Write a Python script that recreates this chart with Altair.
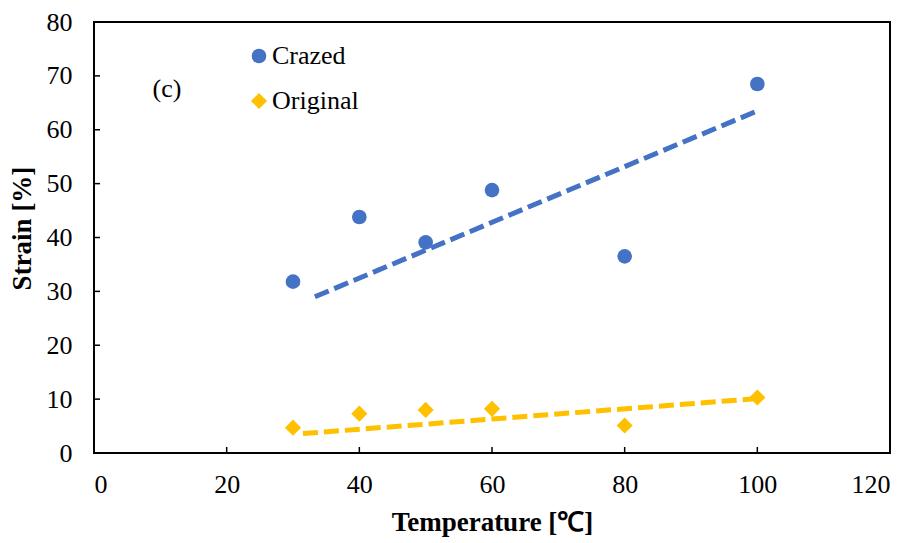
import altair as alt
import pandas as pd

# Data
temperature = [30, 40, 50, 60, 80, 100]
crazed = [31.8, 43.8, 39.1, 48.8, 36.5, 68.5]
original = [4.7, 7.3, 8.0, 8.2, 5.1, 10.3]
series_names = ["Crazed", "Original"]
series_colors = ["#4472C4", "#FFC000"]
series_shapes = ["circle", "M-1.1,0L0,-1.1L1.1,0L0,1.1Z"]

trend_crazed_x = [33.3, 100]
trend_crazed_y = [29.0, 63.5]
trend_original_x = [31.5, 100]
trend_original_y = [3.6, 10.1]

x_ticks = [0, 20, 40, 60, 80, 100, 120]
y_ticks = [0, 10, 20, 30, 40, 50, 60, 70, 80]
inner_x_ticks = [20, 40, 60, 80, 100]
inner_y_ticks = [10, 20, 30, 40, 50, 60, 70]

annot_text = ["(c)"]
annot_x = [11.0]
annot_y = [67.5]

FONT = "'Times New Roman', 'Liberation Serif', serif"

pts = pd.DataFrame({
    "T": temperature * 2,
    "S": crazed + original,
    "series": ["Crazed"] * len(temperature) + ["Original"] * len(temperature),
})
tr_c = pd.DataFrame({"T": trend_crazed_x, "S": trend_crazed_y})
tr_o = pd.DataFrame({"T": trend_original_x, "S": trend_original_y})
xt = pd.DataFrame({"T": inner_x_ticks})
yt = pd.DataFrame({"S": inner_y_ticks})
ann = pd.DataFrame({"T": annot_x, "S": annot_y, "t": annot_text})

xs = alt.Scale(domain=[0, 120], nice=False, zero=False)
ys = alt.Scale(domain=[0, 80], nice=False, zero=False)

x_axis = alt.Axis(values=x_ticks, title="Temperature [℃]", grid=False, domain=False,
                  ticks=False, labelFont=FONT, labelFontSize=26, labelColor="black",
                  labelPadding=18, titleFont=FONT, titleFontSize=27, titleFontWeight="bold",
                  titleColor="black", titlePadding=12)
y_axis = alt.Axis(values=y_ticks, title="Strain [%]", grid=False, domain=False,
                  ticks=False, labelFont=FONT, labelFontSize=26, labelColor="black",
                  labelPadding=22, titleFont=FONT, titleFontSize=27, titleFontWeight="bold",
                  titleColor="black", titlePadding=10, titleY=206)

line_c = alt.Chart(tr_c).mark_line(stroke=series_colors[0], strokeWidth=5, strokeDash=[15, 6], strokeCap="butt").encode(
    x=alt.X("T:Q", scale=xs, axis=x_axis), y=alt.Y("S:Q", scale=ys, axis=y_axis))
line_o = alt.Chart(tr_o).mark_line(stroke=series_colors[1], strokeWidth=5, strokeDash=[15, 6], strokeCap="butt").encode(
    x=alt.X("T:Q", scale=xs), y=alt.Y("S:Q", scale=ys))

points = alt.Chart(pts).mark_point(filled=True, opacity=1, size=215).encode(
    x=alt.X("T:Q", scale=xs),
    y=alt.Y("S:Q", scale=ys),
    color=alt.Color("series:N", scale=alt.Scale(domain=series_names, range=series_colors),
                    legend=alt.Legend(title=None, orient="none", legendX=152, legendY=21,
                                      labelFont=FONT, labelFontSize=26, labelColor="black",
                                      symbolSize=215, symbolStrokeWidth=0, rowPadding=19,
                                      labelOffset=0, padding=0)),
    shape=alt.Shape("series:N", scale=alt.Scale(domain=series_names, range=series_shapes)),
)

xtick = alt.Chart(xt).mark_rule(color="black", strokeWidth=1.5).encode(
    x=alt.X("T:Q", scale=xs), y=alt.value(431), y2=alt.value(425))
ytick = alt.Chart(yt).mark_rule(color="black", strokeWidth=1.5).encode(
    y=alt.Y("S:Q", scale=ys), x=alt.value(0), x2=alt.value(6))

annot = alt.Chart(ann).mark_text(font=FONT, fontSize=26, color="black").encode(
    x=alt.X("T:Q", scale=xs), y=alt.Y("S:Q", scale=ys), text="t:N")

chart = alt.layer(line_c, line_o, points, xtick, ytick, annot).properties(
    width=796, height=431,
    autosize=alt.AutoSizeParams(type="none"),
    padding={"left": 94, "top": 22, "right": 24, "bottom": 90},
).configure(
    background="white",
    view=alt.ViewConfig(stroke="black", strokeWidth=2),
)

chart.save("out.html", embed_options={"renderer": "svg", "actions": False})
